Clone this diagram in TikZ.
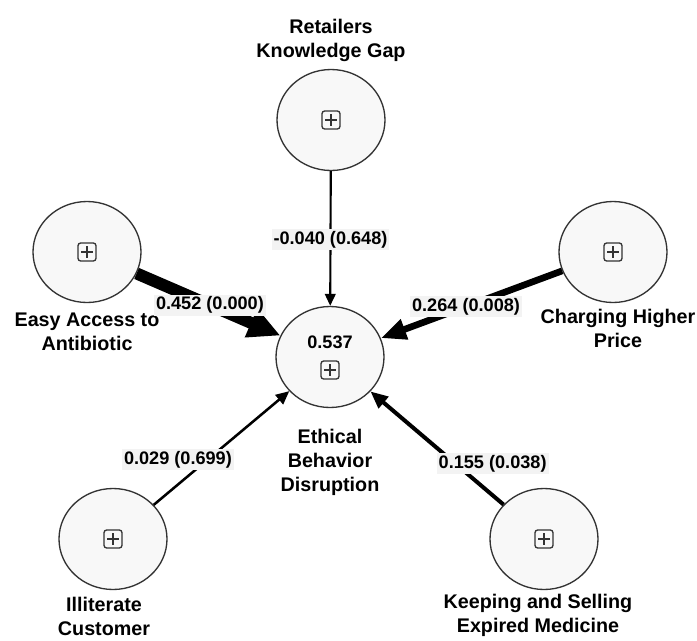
\documentclass[tikz,border=0pt]{standalone}
\usepackage{fontspec}
\setmainfont{Liberation Sans}
\usetikzlibrary{arrows.meta,shapes.geometric}
\definecolor{bubble}{HTML}{F8F8F8}
\definecolor{tagfill}{HTML}{F3F3F3}
\definecolor{rim}{HTML}{333333}
\tikzset{
  construct/.style={ellipse, draw=rim, line width=1pt, fill=bubble,
    minimum width=81pt, minimum height=75.75pt, inner sep=0pt},
  plusbox/.style={draw=rim, line width=1pt, rounded corners=2pt,
    minimum size=13.5pt, inner sep=0pt,
    path picture={
      \draw[line width=1pt] ([yshift=-2.5pt]path picture bounding box.north)
        -- ([yshift=2.5pt]path picture bounding box.south);
      \draw[line width=1pt] ([xshift=2.5pt]path picture bounding box.west)
        -- ([xshift=-2.5pt]path picture bounding box.east);}},
  caption/.style={align=center, font=\fontsize{14.8}{18}\selectfont\bfseries},
  coef/.style={fill=tagfill, inner sep=1.5pt, font=\fontsize{13.6}{16}\selectfont\bfseries},
  relation/.style n args={3}{line width=#1, -{Triangle[length=#2, width=#3]}}
}
\begin{document}
\begin{tikzpicture}[x=0.75pt, y=-0.75pt]
  \useasboundingbox (0,0) rectangle (697,640);
  % constructs
  \node[construct] (rkg) at (331,120) {};
  \node[construct] (eaa) at (87,252) {};
  \node[construct] (chp) at (613,252) {};
  \node[construct] (ebd) at (330,357) {};
  \node[construct] (ilc) at (113,539) {};
  \node[construct] (kse) at (544,539) {};
  \foreach \c in {rkg,eaa,chp,ilc,kse}
    \node[plusbox] (\c box) at (\c) {};
  \node[plusbox] (ebdbox) at (330,370) {};
  \node[font=\fontsize{13.6}{16}\selectfont\bfseries] (r2) at (330,342) {0.537};
  % names
  \node[caption] (rkgtxt) at (331,40) {Retailers\\Knowledge Gap};
  \node[caption] (eaatxt) at (87,332) {Easy Access to\\Antibiotic};
  \node[caption] (chptxt) at (618,328) {Charging Higher\\Price};
  \node[caption] (ebdtxt) at (330,462) {Ethical\\Behavior\\Disruption};
  \node[caption] (ilctxt) at (104,616) {Illiterate\\Customer};
  \node[caption] (ksetxt) at (538,615) {Keeping and Selling\\Expired Medicine};
  % paths
  \draw[relation={1.6pt}{9pt}{8pt}] (rkg) -- node[coef, pos=0.51] (lrkg) {-0.040 (0.648)} (ebd);
  \draw[relation={9pt}{24pt}{22pt}] (eaa) -- node[coef, pos=0.51] (leaa) {0.452 (0.000)} (ebd);
  \draw[relation={5pt}{19pt}{15pt}] (chp) -- node[coef, pos=0.53] (lchp) {0.264 (0.008)} (ebd);
  \draw[relation={1.9pt}{10pt}{9pt}] (ilc) -- node[coef, pos=0.40, xshift=-22.5pt] (lilc) {0.029 (0.699)} (ebd);
  \draw[relation={3pt}{13pt}{11pt}] (kse) -- node[coef, pos=0.36, xshift=27.75pt] (lkse) {0.155 (0.038)} (ebd);
\end{tikzpicture}
\end{document}
